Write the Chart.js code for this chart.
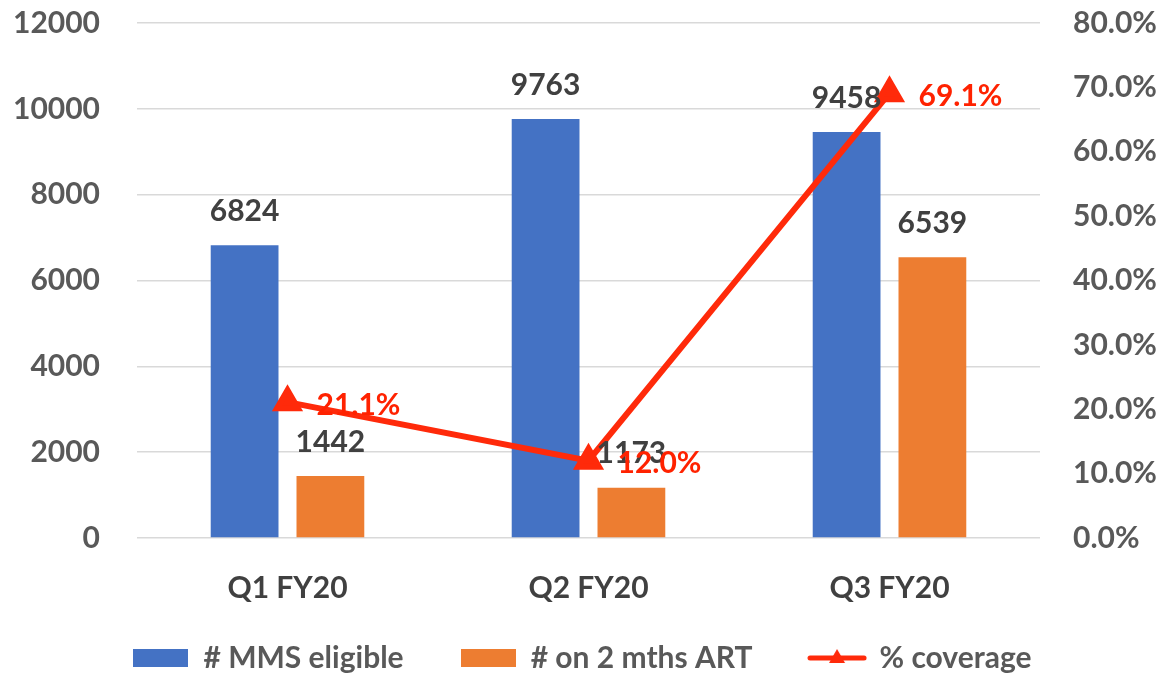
<!DOCTYPE html>
<html lang="en">
<head>
    <meta charset="UTF-8">
    <title>MMS coverage</title>
    <script src="https://cdn.jsdelivr.net/npm/chart.js"></script>
    <style>
        html, body { margin: 0; padding: 0; background: #fff; }
        #wrap { width: 1165px; height: 677px; }
    </style>
</head>
<body>
    <div id="wrap">
        <canvas id="mmsChart" width="1165" height="677"></canvas>
    </div>

    <script>
        const categories = ['Q1 FY20', 'Q2 FY20', 'Q3 FY20'];
        const mmsEligible = [6824, 9763, 9458];
        const onTwoMonthsArt = [1442, 1173, 6539];
        const coveragePct = [21.1, 12.0, 69.1];

        const seriesNames = ['# MMS eligible', '# on 2 mths ART', '% coverage'];
        const leftMax = 12000, leftStep = 2000;
        const rightMax = 80, rightStep = 10;

        const BLUE = '#4472C4';
        const ORANGE = '#ED7D31';
        const RED = '#FF2A0A';
        const FONT = 'Lato, "Open Sans", sans-serif';

        // legend markers drawn as small images
        function makeBox(color) {
            const c = document.createElement('canvas');
            c.width = 55; c.height = 18;
            const g = c.getContext('2d');
            g.fillStyle = color;
            g.fillRect(0, 0, 55, 18);
            return c;
        }
        function makeLineMarker() {
            const c = document.createElement('canvas');
            c.width = 60; c.height = 20;
            const g = c.getContext('2d');
            g.strokeStyle = RED;
            g.lineWidth = 5;
            g.lineCap = 'round';
            g.beginPath(); g.moveTo(3, 10); g.lineTo(57, 10); g.stroke();
            g.fillStyle = RED;
            g.beginPath(); g.moveTo(30, 1); g.lineTo(38, 15); g.lineTo(22, 15); g.closePath(); g.fill();
            return c;
        }
        const legendImages = [makeBox(BLUE), makeBox(ORANGE), makeLineMarker()];

        const valueLabels = {
            id: 'valueLabels',
            afterDatasetsDraw(chart) {
                const ctx = chart.ctx;
                ctx.save();
                ctx.font = 'bold 30px ' + FONT;
                ctx.textBaseline = 'middle';
                chart.data.datasets.forEach((ds, i) => {
                    const meta = chart.getDatasetMeta(i);
                    meta.data.forEach((el, j) => {
                        if (ds.type === 'line') {
                            ctx.fillStyle = '#FF2200';
                            ctx.textAlign = 'left';
                            ctx.fillText(ds.data[j].toFixed(1) + '%', el.x + 29, el.y + 3);
                        } else {
                            ctx.fillStyle = '#404040';
                            ctx.textAlign = 'center';
                            ctx.fillText(String(ds.data[j]), el.x, el.y - 34);
                        }
                    });
                });
                ctx.restore();
            }
        };

        const ctx = document.getElementById('mmsChart').getContext('2d');

        new Chart(ctx, {
            data: {
                labels: categories,
                datasets: [
                    {
                        type: 'bar',
                        label: seriesNames[0],
                        data: mmsEligible,
                        backgroundColor: BLUE,
                        yAxisID: 'y',
                        order: 1,
                        categoryPercentage: 0.57,
                        barPercentage: 0.79,
                    },
                    {
                        type: 'bar',
                        label: seriesNames[1],
                        data: onTwoMonthsArt,
                        backgroundColor: ORANGE,
                        yAxisID: 'y',
                        order: 1,
                        categoryPercentage: 0.57,
                        barPercentage: 0.79,
                    },
                    {
                        type: 'line',
                        label: seriesNames[2],
                        data: coveragePct,
                        borderColor: RED,
                        backgroundColor: RED,
                        borderWidth: 6,
                        pointStyle: 'triangle',
                        pointRadius: 12,
                        pointHoverRadius: 12,
                        yAxisID: 'y2',
                        order: 0,
                        tension: 0,
                    },
                ],
            },
            options: {
                responsive: false,
                animation: false,
                layout: { padding: { top: 23, left: 0, right: 0, bottom: -6 } },
                plugins: {
                    tooltip: { enabled: false },
                    legend: {
                        position: 'bottom',
                        labels: {
                            usePointStyle: true,
                            pointStyleWidth: 55,
                            boxHeight: 18,
                            padding: 6,
                            color: '#595959',
                            font: { family: FONT, size: 30, weight: 'bold' },
                            sort: (a, b) => a.datasetIndex - b.datasetIndex,
                            generateLabels(chart) {
                                return chart.data.datasets.map((ds, i) => ({
                                    text: i < 2 ? ds.label + '       ' : ds.label,
                                    pointStyle: legendImages[i],
                                    fillStyle: ds.backgroundColor,
                                    strokeStyle: ds.backgroundColor,
                                    lineWidth: 0,
                                    hidden: false,
                                    datasetIndex: i,
                                    fontColor: '#595959',
                                }));
                            },
                        },
                    },
                },
                scales: {
                    x: {
                        grid: { display: false, drawTicks: false },
                        border: { display: false },
                        ticks: {
                            color: '#404040',
                            padding: 32,
                            font: { family: FONT, size: 30, weight: 'bold' },
                        },
                        afterFit(scale) {
                            scale.height = 99;
                            scale.paddingLeft = 0;
                            scale.paddingRight = 0;
                        },
                    },
                    y: {
                        position: 'left',
                        min: 0,
                        max: leftMax,
                        ticks: {
                            stepSize: leftStep,
                            color: '#595959',
                            padding: 37,
                            font: { family: FONT, size: 30, weight: 'bold' },
                            callback: (v) => String(v),
                        },
                        grid: { color: '#D9D9D9', lineWidth: 1.5, drawTicks: false },
                        border: { display: false },
                        afterFit(scale) {
                            scale.width = 137;
                            scale.paddingTop = 0;
                            scale.paddingBottom = 0;
                        },
                    },
                    y2: {
                        position: 'right',
                        min: 0,
                        max: rightMax,
                        ticks: {
                            stepSize: rightStep,
                            color: '#595959',
                            padding: 33,
                            font: { family: FONT, size: 30, weight: 'bold' },
                            callback: (v) => v.toFixed(1) + '%',
                        },
                        grid: { display: false, drawTicks: false },
                        border: { display: false },
                        afterFit(scale) {
                            scale.width = 125;
                            scale.paddingTop = 0;
                            scale.paddingBottom = 0;
                        },
                    },
                },
            },
            plugins: [valueLabels],
        });
    </script>
</body>
</html>
